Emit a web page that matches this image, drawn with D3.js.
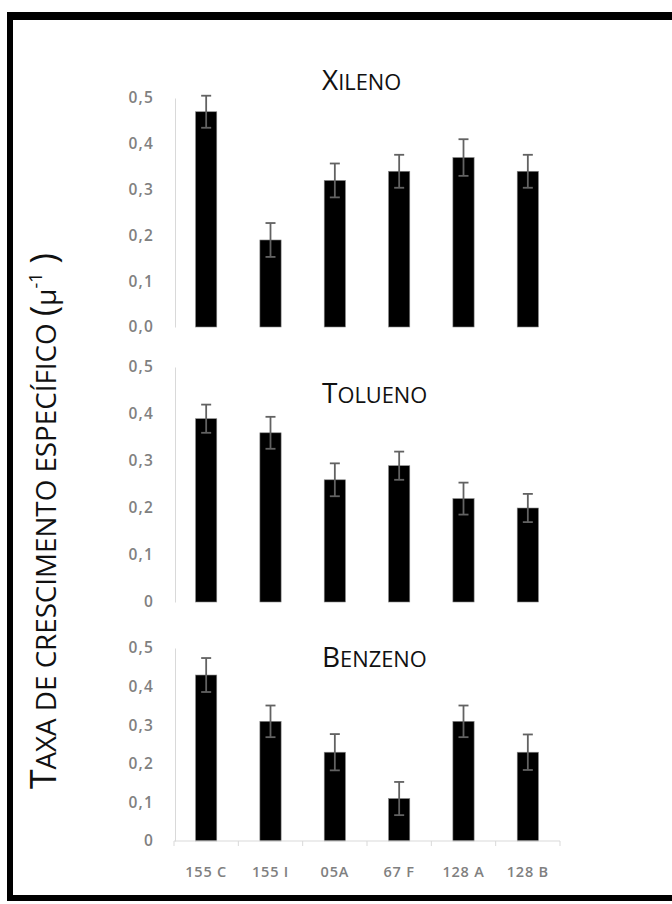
<!DOCTYPE html>
<html>
<head>
<meta charset="utf-8">
<script src="https://cdn.jsdelivr.net/npm/d3@7"></script>
<style>
  html, body { margin: 0; padding: 0; background: #fff; }
  svg { display: block; }
</style>
</head>
<body>
<svg id="chart" width="672" height="904"></svg>
<script>
// Strains tested
const categories = ["155 C", "155 I", "05A", "67 F", "128 A", "128 B"];

// Specific growth rate per substrate, with error (±)
const xilenoValues  = [0.47, 0.19, 0.32, 0.34, 0.37, 0.34];
const xilenoErrors  = [0.035, 0.037, 0.037, 0.036, 0.04, 0.036];
const toluenoValues = [0.39, 0.36, 0.26, 0.29, 0.22, 0.20];
const toluenoErrors = [0.03, 0.034, 0.035, 0.03, 0.034, 0.03];
const benzenoValues = [0.43, 0.31, 0.23, 0.11, 0.31, 0.23];
const benzenoErrors = [0.044, 0.041, 0.047, 0.043, 0.041, 0.046];

// Y tick values and their printed labels
const yTicks = [0, 0.1, 0.2, 0.3, 0.4, 0.5];
const yTickLabelsXileno = ["0,0", "0,1", "0,2", "0,3", "0,4", "0,5"];
const yTickLabelsOther  = ["0", "0,1", "0,2", "0,3", "0,4", "0,5"];

const panelTitles = ["Xileno", "Tolueno", "Benzeno"];
const yTitle = "Taxa de crescimento específico";

const svg = d3.select("#chart");
const FONT = "'Open Sans', 'DejaVu Sans', sans-serif";
const SMALL = 0.78; // size of the lowered letters in small caps

// Writes a word as small caps: capitals at full size, lower-case letters
// uppercased at a reduced size.
function smallCaps(textSel, str, size) {
  let buf = "", lower = null;
  const flush = () => {
    if (!buf) return;
    textSel.append("tspan")
      .attr("font-size", lower ? size * SMALL : size)
      .text(lower ? buf.toUpperCase() : buf);
    buf = "";
  };
  for (const ch of str) {
    const isLower = ch !== ch.toUpperCase() || ch === " ";
    if (lower !== null && isLower !== lower) flush();
    lower = isLower;
    buf += ch;
  }
  flush();
}

// Frame: open on the right side
svg.append("rect").attr("x", 7).attr("y", 12).attr("width", 672).attr("height", 8).attr("fill", "#000");
svg.append("rect").attr("x", 7).attr("y", 12).attr("width", 6).attr("height", 889).attr("fill", "#000");
svg.append("rect").attr("x", 7).attr("y", 895).attr("width", 672).attr("height", 6).attr("fill", "#000");

const x = d3.scaleBand()
  .domain(categories)
  .range([174, 560])
  .paddingInner(0.67)
  .paddingOuter(0.335);

const panels = [
  { title: panelTitles[0], values: xilenoValues, errors: xilenoErrors, labels: yTickLabelsXileno, y0: 327, y1: 98, titleY: 90, bottomAxis: false },
  { title: panelTitles[1], values: toluenoValues, errors: toluenoErrors, labels: yTickLabelsOther, y0: 602, y1: 367, titleY: 403, bottomAxis: false },
  { title: panelTitles[2], values: benzenoValues, errors: benzenoErrors, labels: yTickLabelsOther, y0: 841, y1: 648, titleY: 667, bottomAxis: true }
];

panels.forEach(p => {
  const y = d3.scaleLinear().domain([0, 0.5]).range([p.y0, p.y1]);
  const g = svg.append("g");

  // Left axis: faint line, gray labels
  const yAxis = d3.axisLeft(y)
    .tickValues(yTicks)
    .tickFormat((d, i) => p.labels[i])
    .tickSize(0)
    .tickPadding(21);
  const ya = g.append("g").attr("transform", "translate(175,0)").call(yAxis);
  ya.select(".domain").attr("stroke", "#d9d9d9").attr("stroke-width", 1);
  ya.selectAll("text")
    .attr("font-family", FONT)
    .attr("font-size", 15.5)
    .attr("font-weight", 600)
    .attr("letter-spacing", 1.2)
    .attr("fill", "#808080");

  // Bars
  g.selectAll("rect.bar")
    .data(p.values)
    .join("rect")
    .attr("class", "bar")
    .attr("x", (d, i) => x(categories[i]))
    .attr("width", x.bandwidth())
    .attr("y", d => y(d))
    .attr("height", d => y(0) - y(d))
    .attr("fill", "#000")
    .attr("stroke", "#888")
    .attr("stroke-width", 0.6);

  // Error bars
  const cap = 5;
  const eb = g.selectAll("g.err")
    .data(p.values.map((v, i) => ({ v, e: p.errors[i], c: categories[i] })))
    .join("g")
    .attr("class", "err")
    .attr("stroke", "#626262")
    .attr("stroke-width", 1.8);
  eb.append("line")
    .attr("x1", d => x(d.c) + x.bandwidth() / 2)
    .attr("x2", d => x(d.c) + x.bandwidth() / 2)
    .attr("y1", d => y(d.v + d.e))
    .attr("y2", d => y(d.v - d.e));
  eb.append("line")
    .attr("x1", d => x(d.c) + x.bandwidth() / 2 - cap)
    .attr("x2", d => x(d.c) + x.bandwidth() / 2 + cap)
    .attr("y1", d => y(d.v + d.e))
    .attr("y2", d => y(d.v + d.e));
  eb.append("line")
    .attr("x1", d => x(d.c) + x.bandwidth() / 2 - cap)
    .attr("x2", d => x(d.c) + x.bandwidth() / 2 + cap)
    .attr("y1", d => y(d.v - d.e))
    .attr("y2", d => y(d.v - d.e));

  // Panel title in small caps
  const t = g.append("text")
    .attr("x", 322)
    .attr("y", p.titleY)
    .attr("font-family", FONT)
    .attr("fill", "#111");
  smallCaps(t, p.title, 28);

  if (p.bottomAxis) {
    const xAxis = d3.axisBottom(x).tickSize(0).tickPadding(26);
    const xa = g.append("g").attr("transform", `translate(0,${p.y0})`).call(xAxis);
    xa.select(".domain").remove();
    xa.selectAll("text")
      .attr("font-family", FONT)
      .attr("font-size", 14.5)
      .attr("font-weight", 600)
      .attr("letter-spacing", 0.8)
      .attr("fill", "#808080");
    const [r0, r1] = x.range();
    g.append("line")
      .attr("x1", r0).attr("x2", r1)
      .attr("y1", p.y0).attr("y2", p.y0)
      .attr("stroke", "#d9d9d9");
    // Category boundary ticks
    const bounds = d3.range(categories.length + 1).map(i => r0 + i * x.step());
    g.selectAll("line.btick")
      .data(bounds)
      .join("line")
      .attr("class", "btick")
      .attr("x1", d => d).attr("x2", d => d)
      .attr("y1", p.y0).attr("y2", p.y0 + 5)
      .attr("stroke", "#d9d9d9");
  }
});

// Shared Y title, small caps, with the unit μ⁻¹
function drawYTitle(size) {
  svg.select("text.ytitle").remove();
  const yt = svg.append("text")
    .attr("class", "ytitle")
    .attr("transform", "translate(56,521) rotate(-90)")
    .attr("text-anchor", "middle")
    .attr("font-family", FONT)
    .attr("fill", "#111");
  smallCaps(yt, yTitle + " (", size);
  yt.append("tspan").attr("font-size", size * SMALL).text("μ");
  yt.append("tspan").attr("font-size", size * 0.5).attr("dy", -size * 0.38).text("-1");
  yt.append("tspan").attr("font-size", size).attr("dy", size * 0.38).text(" )");
  return yt;
}
const ySize = 24;
const len = drawYTitle(ySize).node().getComputedTextLength();
drawYTitle(ySize * 536 / len);
</script>
</body>
</html>
